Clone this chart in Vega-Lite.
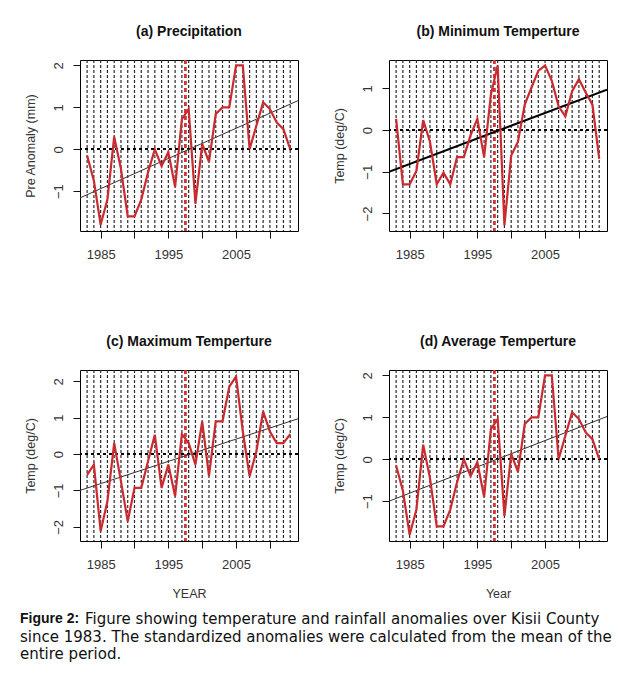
{
  "$schema": "https://vega.github.io/schema/vega-lite/v6.json",
  "background": "white",
  "padding": {"left": 20, "top": 24, "right": 5, "bottom": 5},
  "datasets": {
    "series": [
      {"year": 1983, "precip": -0.15, "tmin": 0.27, "tmax": -0.57, "tavg": -0.15},
      {"year": 1984, "precip": -0.75, "tmin": -1.3, "tmax": -0.29, "tavg": -0.75},
      {"year": 1985, "precip": -1.8, "tmin": -1.3, "tmax": -2.12, "tavg": -1.8},
      {"year": 1986, "precip": -1.2, "tmin": -0.98, "tmax": -1.3, "tavg": -1.2},
      {"year": 1987, "precip": 0.3, "tmin": 0.24, "tmax": 0.3, "tavg": 0.35},
      {"year": 1988, "precip": -0.47, "tmin": -0.28, "tmax": -0.75, "tavg": -0.45},
      {"year": 1989, "precip": -1.6, "tmin": -1.3, "tmax": -1.85, "tavg": -1.6},
      {"year": 1990, "precip": -1.6, "tmin": -1.02, "tmax": -0.93, "tavg": -1.6},
      {"year": 1991, "precip": -1.2, "tmin": -1.3, "tmax": -0.93, "tavg": -1.2},
      {"year": 1992, "precip": -0.55, "tmin": -0.65, "tmax": -0.2, "tavg": -0.55},
      {"year": 1993, "precip": 0.0, "tmin": -0.65, "tmax": 0.53, "tavg": 0.0},
      {"year": 1994, "precip": -0.4, "tmin": -0.12, "tmax": -0.93, "tavg": -0.4},
      {"year": 1995, "precip": -0.07, "tmin": 0.27, "tmax": -0.29, "tavg": -0.07},
      {"year": 1996, "precip": -0.9, "tmin": -0.65, "tmax": -1.16, "tavg": -0.9},
      {"year": 1997, "precip": 0.72, "tmin": 0.85, "tmax": 0.55, "tavg": 0.72},
      {"year": 1998, "precip": 0.96, "tmin": 1.55, "tmax": 0.3, "tavg": 0.96},
      {"year": 1999, "precip": -1.3, "tmin": -2.28, "tmax": -0.29, "tavg": -1.35},
      {"year": 2000, "precip": 0.13, "tmin": -0.61, "tmax": 0.9, "tavg": 0.13},
      {"year": 2001, "precip": -0.3, "tmin": -0.28, "tmax": -0.61, "tavg": -0.3},
      {"year": 2002, "precip": 0.84, "tmin": 0.61, "tmax": 0.9, "tavg": 0.84},
      {"year": 2003, "precip": 1.0, "tmin": 1.02, "tmax": 0.9, "tavg": 1.0},
      {"year": 2004, "precip": 1.0, "tmin": 1.42, "tmax": 1.85, "tavg": 1.0},
      {"year": 2005, "precip": 2.0, "tmin": 1.55, "tmax": 2.13, "tavg": 2.0},
      {"year": 2006, "precip": 2.0, "tmin": 1.18, "tmax": 0.62, "tavg": 2.0},
      {"year": 2007, "precip": 0.0, "tmin": 0.57, "tmax": -0.61, "tavg": 0.0},
      {"year": 2008, "precip": 0.56, "tmin": 0.33, "tmax": 0.07, "tavg": 0.56},
      {"year": 2009, "precip": 1.12, "tmin": 0.93, "tmax": 1.17, "tavg": 1.12},
      {"year": 2010, "precip": 0.96, "tmin": 1.22, "tmax": 0.62, "tavg": 0.96},
      {"year": 2011, "precip": 0.64, "tmin": 0.9, "tmax": 0.3, "tavg": 0.64},
      {"year": 2012, "precip": 0.48, "tmin": 0.61, "tmax": 0.3, "tavg": 0.48},
      {"year": 2013, "precip": 0.0, "tmin": -0.69, "tmax": 0.55, "tavg": 0.0}
    ],
    "trend": [
      {"year": 1981.95, "precip": -1.16, "tmin": -1.0, "tmax": -1.0, "tavg": -1.0},
      {"year": 2014.15, "precip": 1.16, "tmin": 0.97, "tmax": 0.97, "tavg": 1.02}
    ],
    "caption": [
      {"line": 1, "lead": "Figure 2:", "text": "Figure showing temperature and rainfall anomalies over Kisii County"},
      {"line": 2, "lead": "", "text": "since 1983. The standardized anomalies were calculated from the mean of the"},
      {"line": 3, "lead": "", "text": "entire period."}
    ]
  },
  "vconcat": [
    {
      "vconcat": [
        {
          "hconcat": [
            {
              "width": 218, "height": 171,
              "title": {"text": "(a) Precipitation"},
              "layer": [
                {"data": {"name": "series"}, "mark": {"type": "rule", "strokeDash": [3, 2], "color": "#2a2a2a", "strokeWidth": 1.2},
                 "encoding": {"x": {"field": "year", "type": "quantitative", "scale": {"domain": [1981.95, 2014.15], "nice": false, "zero": false},
                   "axis": {"values": [1985, 1990, 1995, 2000, 2005, 2010], "format": "d", "title": null, "labelExpr": "datum.value == 1985 || datum.value == 1995 || datum.value == 2005 ? datum.label : ''"}}}},
                {"data": {"name": "series"}, "mark": {"type": "rule", "color": "#d0353a", "strokeDash": [4, 3], "strokeWidth": 1.6, "opacity": 0.6}, "encoding": {"x": {"datum": 1997.5}}},
                {"data": {"name": "series"}, "mark": {"type": "rule", "color": "black", "strokeDash": [3, 3], "strokeWidth": 1.5}, "encoding": {"y": {"datum": 0}}},
                {"data": {"name": "trend"}, "mark": {"type": "line", "color": "#333", "strokeWidth": 1, "clip": true},
                 "encoding": {"x": {"field": "year", "type": "quantitative"}, "y": {"field": "precip", "type": "quantitative", "title": "Pre Anomaly (mm)"}}},
                {"data": {"name": "series"}, "mark": {"type": "line", "color": "#c92b30", "strokeWidth": 2.2},
                 "encoding": {"x": {"field": "year", "type": "quantitative"},
                   "y": {"field": "precip", "type": "quantitative", "title": "Pre Anomaly (mm)", "scale": {"domain": [-1.95, 2.13], "nice": false, "zero": false},
                     "axis": {"values": [-1, 0, 1, 2], "title": "Pre Anomaly (mm)"}}}}
              ]
            },
            {
              "width": 218, "height": 171,
              "title": {"text": "(b) Minimum Temperture"},
              "layer": [
                {"data": {"name": "series"}, "mark": {"type": "rule", "strokeDash": [3, 2], "color": "#2a2a2a", "strokeWidth": 1.2},
                 "encoding": {"x": {"field": "year", "type": "quantitative", "scale": {"domain": [1981.95, 2014.15], "nice": false, "zero": false},
                   "axis": {"values": [1985, 1990, 1995, 2000, 2005, 2010], "format": "d", "title": null, "labelExpr": "datum.value == 1985 || datum.value == 1995 || datum.value == 2005 ? datum.label : ''"}}}},
                {"data": {"name": "series"}, "mark": {"type": "rule", "color": "#d0353a", "strokeDash": [4, 3], "strokeWidth": 1.6, "opacity": 0.6}, "encoding": {"x": {"datum": 1997.5}}},
                {"data": {"name": "series"}, "mark": {"type": "rule", "color": "black", "strokeDash": [3, 3], "strokeWidth": 1.5}, "encoding": {"y": {"datum": 0}}},
                {"data": {"name": "trend"}, "mark": {"type": "line", "color": "black", "strokeWidth": 2, "clip": true},
                 "encoding": {"x": {"field": "year", "type": "quantitative"}, "y": {"field": "tmin", "type": "quantitative", "title": "Temp (deg/C)"}}},
                {"data": {"name": "series"}, "mark": {"type": "line", "color": "#c92b30", "strokeWidth": 2.2},
                 "encoding": {"x": {"field": "year", "type": "quantitative"},
                   "y": {"field": "tmin", "type": "quantitative", "title": "Temp (deg/C)", "scale": {"domain": [-2.42, 1.68], "nice": false, "zero": false},
                     "axis": {"values": [-2, -1, 0, 1], "title": "Temp (deg/C)"}}}}
              ]
            }
          ]
        },
        {
          "hconcat": [
            {
              "width": 218, "height": 171,
              "title": {"text": "(c) Maximum Temperture"},
              "layer": [
                {"data": {"name": "series"}, "mark": {"type": "rule", "strokeDash": [3, 2], "color": "#2a2a2a", "strokeWidth": 1.2},
                 "encoding": {"x": {"field": "year", "type": "quantitative", "scale": {"domain": [1981.95, 2014.15], "nice": false, "zero": false},
                   "axis": {"values": [1985, 1990, 1995, 2000, 2005, 2010], "format": "d", "title": "YEAR", "labelExpr": "datum.value == 1985 || datum.value == 1995 || datum.value == 2005 ? datum.label : ''"}}}},
                {"data": {"name": "series"}, "mark": {"type": "rule", "color": "#d0353a", "strokeDash": [4, 3], "strokeWidth": 1.6, "opacity": 0.6}, "encoding": {"x": {"datum": 1997.5}}},
                {"data": {"name": "series"}, "mark": {"type": "rule", "color": "black", "strokeDash": [3, 3], "strokeWidth": 1.5}, "encoding": {"y": {"datum": 0}}},
                {"data": {"name": "trend"}, "mark": {"type": "line", "color": "#333", "strokeWidth": 1, "clip": true},
                 "encoding": {"x": {"field": "year", "type": "quantitative"}, "y": {"field": "tmax", "type": "quantitative", "title": "Temp (deg/C)"}}},
                {"data": {"name": "series"}, "mark": {"type": "line", "color": "#c92b30", "strokeWidth": 2.2},
                 "encoding": {"x": {"field": "year", "type": "quantitative"},
                   "y": {"field": "tmax", "type": "quantitative", "title": "Temp (deg/C)", "scale": {"domain": [-2.39, 2.31], "nice": false, "zero": false},
                     "axis": {"values": [-2, -1, 0, 1, 2], "title": "Temp (deg/C)"}}}}
              ]
            },
            {
              "width": 218, "height": 171,
              "title": {"text": "(d) Average Temperture"},
              "layer": [
                {"data": {"name": "series"}, "mark": {"type": "rule", "strokeDash": [3, 2], "color": "#2a2a2a", "strokeWidth": 1.2},
                 "encoding": {"x": {"field": "year", "type": "quantitative", "scale": {"domain": [1981.95, 2014.15], "nice": false, "zero": false},
                   "axis": {"values": [1985, 1990, 1995, 2000, 2005, 2010], "format": "d", "title": "Year", "labelExpr": "datum.value == 1985 || datum.value == 1995 || datum.value == 2005 ? datum.label : ''"}}}},
                {"data": {"name": "series"}, "mark": {"type": "rule", "color": "#d0353a", "strokeDash": [4, 3], "strokeWidth": 1.6, "opacity": 0.6}, "encoding": {"x": {"datum": 1997.5}}},
                {"data": {"name": "series"}, "mark": {"type": "rule", "color": "black", "strokeDash": [3, 3], "strokeWidth": 1.5}, "encoding": {"y": {"datum": 0}}},
                {"data": {"name": "trend"}, "mark": {"type": "line", "color": "#333", "strokeWidth": 1, "clip": true},
                 "encoding": {"x": {"field": "year", "type": "quantitative"}, "y": {"field": "tavg", "type": "quantitative", "title": "Temp (deg/C)"}}},
                {"data": {"name": "series"}, "mark": {"type": "line", "color": "#c92b30", "strokeWidth": 2.2},
                 "encoding": {"x": {"field": "year", "type": "quantitative"},
                   "y": {"field": "tavg", "type": "quantitative", "title": "Temp (deg/C)", "scale": {"domain": [-1.95, 2.13], "nice": false, "zero": false},
                     "axis": {"values": [-1, 0, 1, 2], "title": "Temp (deg/C)"}}}}
              ]
            }
          ]
        }
      ],
      "spacing": 72
    },
    {
      "width": 560, "height": 53,
      "view": {"stroke": null},
      "data": {"name": "caption"},
      "layer": [
        {"transform": [{"filter": "datum.line == 1"}],
         "mark": {"type": "text", "align": "left", "baseline": "middle", "fontSize": 14, "fontWeight": "bold", "color": "#111", "font": "Liberation Sans"},
         "encoding": {"x": {"value": -60}, "y": {"field": "line", "type": "ordinal", "axis": null}, "text": {"field": "lead"}}},
        {"transform": [{"filter": "datum.line == 1"}],
         "mark": {"type": "text", "align": "left", "baseline": "middle", "fontSize": 15, "dx": 65, "color": "#111", "font": "DejaVu Sans"},
         "encoding": {"x": {"value": -60}, "y": {"field": "line", "type": "ordinal", "axis": null}, "text": {"field": "text"}}},
        {"transform": [{"filter": "datum.line > 1"}],
         "mark": {"type": "text", "align": "left", "baseline": "middle", "fontSize": 15, "color": "#111", "font": "DejaVu Sans"},
         "encoding": {"x": {"value": -60}, "y": {"field": "line", "type": "ordinal", "axis": null}, "text": {"field": "text"}}}
      ]
    }
  ],
  "spacing": 10,
  "config": {
    "font": "Liberation Sans",
    "view": {"stroke": "black", "strokeWidth": 1},
    "concat": {"spacing": 32},
    "axis": {"domain": false, "grid": false, "tickColor": "#111", "tickSize": 7, "labelColor": "#333", "labelFontSize": 13, "titleFontSize": 12.5, "titleFontWeight": "normal", "titleColor": "#333", "labelFont": "Liberation Sans", "titleFont": "Liberation Sans"},
    "axisY": {"labelAngle": 270, "labelAlign": "center", "labelBaseline": "bottom", "labelPadding": 8, "titlePadding": 15},
    "axisX": {"labelPadding": 10, "titlePadding": 16},
    "title": {"fontSize": 14, "fontWeight": "bold", "color": "#111", "offset": 20, "font": "Liberation Sans"}
  }
}
